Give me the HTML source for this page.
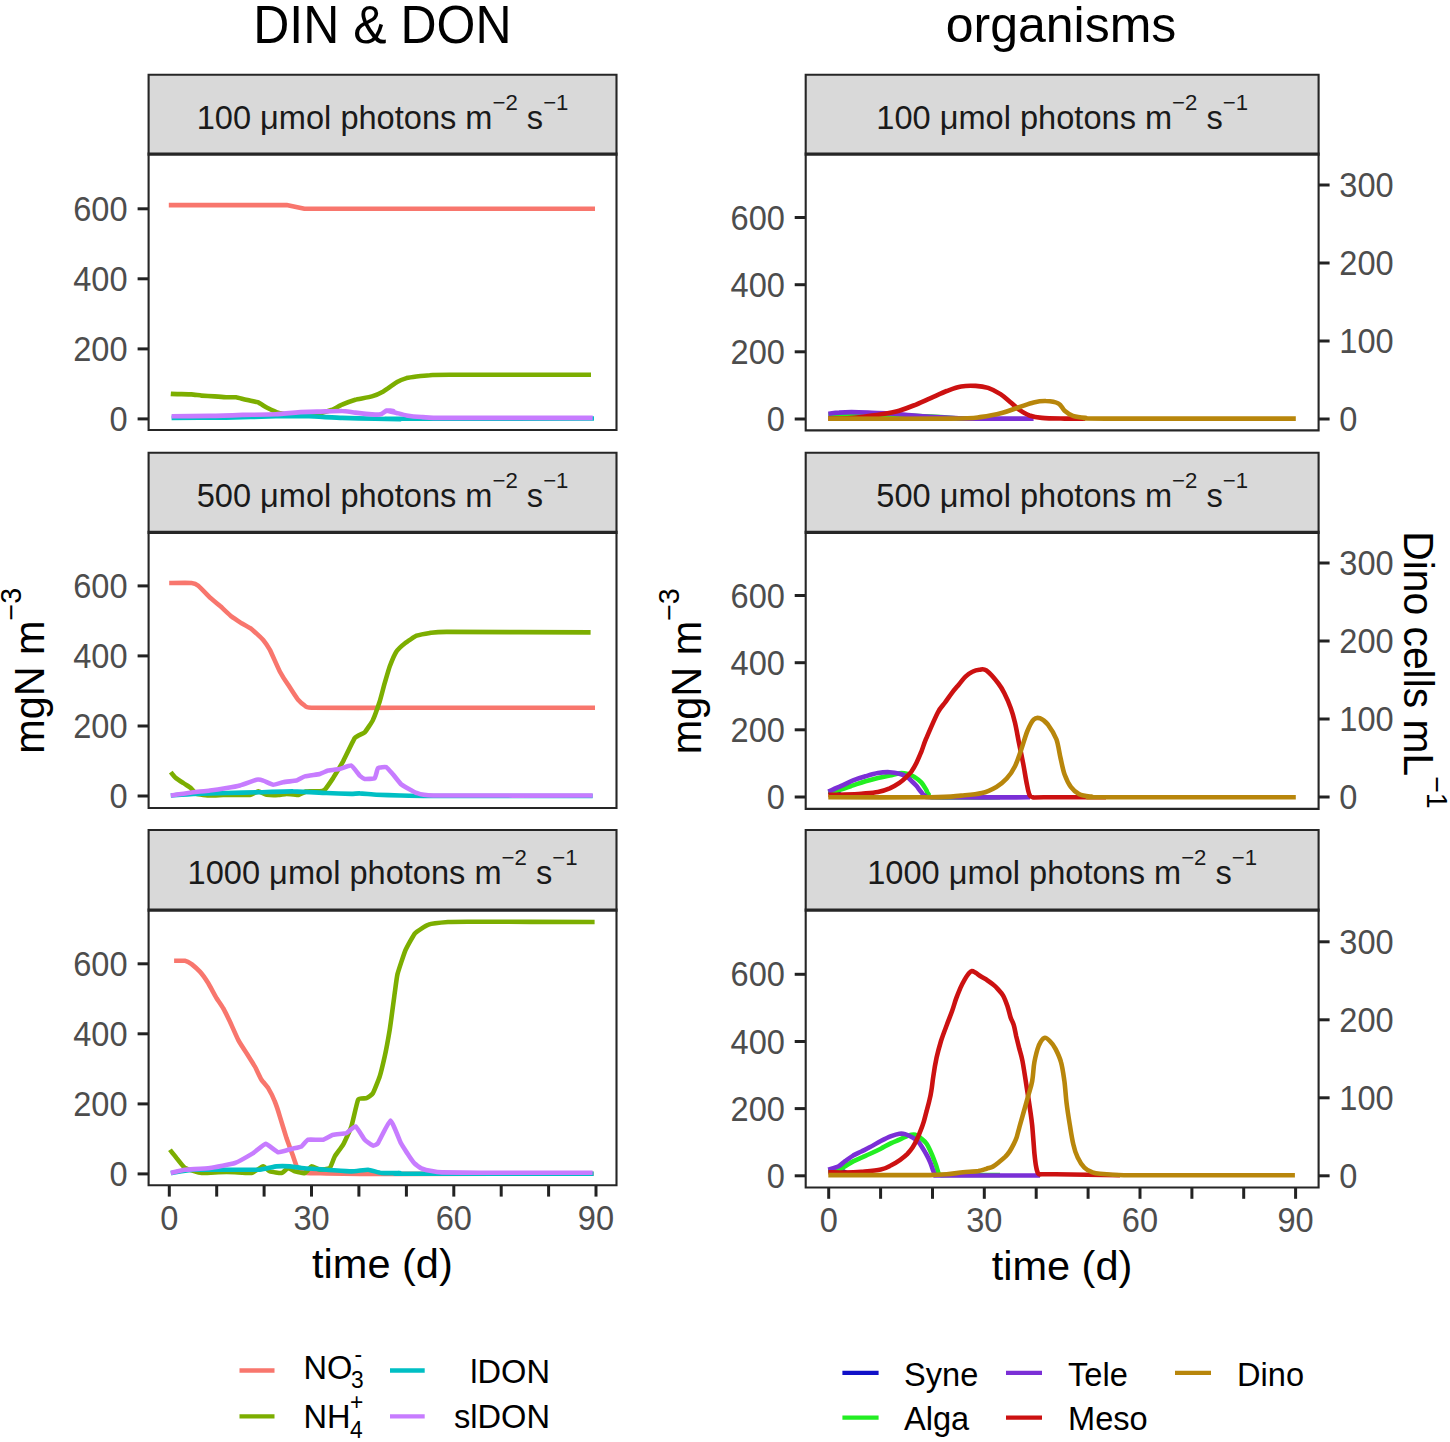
<!DOCTYPE html><html><head><meta charset="utf-8"><style>html,body{margin:0;padding:0;background:#fff;overflow:hidden;}svg{display:block;}text{font-family:"Liberation Sans", sans-serif;}</style></head><body>
<svg width="1450" height="1442" viewBox="0 0 1450 1442">
<rect x="0" y="0" width="1450" height="1442" fill="#fff"/>
<text transform="translate(382.40,43.40) scale(1.0,1.077)" font-size="50" text-anchor="middle" fill="#000">DIN &amp; DON</text>
<text transform="translate(1061.00,42.00) scale(1.0,1.0)" font-size="50" text-anchor="middle" fill="#000">organisms</text>
<rect x="148.6" y="74.7" width="467.90" height="79.35" fill="#D9D9D9"/>
<text transform="translate(382.55,129.00) scale(1.0,1.0)" font-size="32.6" text-anchor="middle" fill="#1A1A1A">100 μmol photons m<tspan dy="-19" font-size="22.2">−2</tspan><tspan dy="19"> s</tspan><tspan dy="-19" font-size="22.2">−1</tspan></text>
<rect x="805.7" y="74.7" width="512.90" height="79.35" fill="#D9D9D9"/>
<text transform="translate(1062.15,129.00) scale(1.0,1.0)" font-size="32.6" text-anchor="middle" fill="#1A1A1A">100 μmol photons m<tspan dy="-19" font-size="22.2">−2</tspan><tspan dy="19"> s</tspan><tspan dy="-19" font-size="22.2">−1</tspan></text>
<rect x="148.6" y="452.8" width="467.90" height="79.50" fill="#D9D9D9"/>
<text transform="translate(382.55,507.10) scale(1.0,1.0)" font-size="32.6" text-anchor="middle" fill="#1A1A1A">500 μmol photons m<tspan dy="-19" font-size="22.2">−2</tspan><tspan dy="19"> s</tspan><tspan dy="-19" font-size="22.2">−1</tspan></text>
<rect x="805.7" y="452.8" width="512.90" height="79.50" fill="#D9D9D9"/>
<text transform="translate(1062.15,507.10) scale(1.0,1.0)" font-size="32.6" text-anchor="middle" fill="#1A1A1A">500 μmol photons m<tspan dy="-19" font-size="22.2">−2</tspan><tspan dy="19"> s</tspan><tspan dy="-19" font-size="22.2">−1</tspan></text>
<rect x="148.6" y="830.0" width="467.90" height="80.10" fill="#D9D9D9"/>
<text transform="translate(382.55,884.30) scale(1.0,1.0)" font-size="32.6" text-anchor="middle" fill="#1A1A1A">1000 μmol photons m<tspan dy="-19" font-size="22.2">−2</tspan><tspan dy="19"> s</tspan><tspan dy="-19" font-size="22.2">−1</tspan></text>
<rect x="805.7" y="830.0" width="512.90" height="80.10" fill="#D9D9D9"/>
<text transform="translate(1062.15,884.30) scale(1.0,1.0)" font-size="32.6" text-anchor="middle" fill="#1A1A1A">1000 μmol photons m<tspan dy="-19" font-size="22.2">−2</tspan><tspan dy="19"> s</tspan><tspan dy="-19" font-size="22.2">−1</tspan></text>
<line x1="137.6" y1="418.9" x2="148.6" y2="418.9" stroke="#222222" stroke-width="3"/>
<text transform="translate(127.60,431.00) scale(1.0,1.065)" font-size="32.6" text-anchor="end" fill="#4D4D4D">0</text>
<line x1="137.6" y1="348.9" x2="148.6" y2="348.9" stroke="#222222" stroke-width="3"/>
<text transform="translate(127.60,360.96) scale(1.0,1.065)" font-size="32.6" text-anchor="end" fill="#4D4D4D">200</text>
<line x1="137.6" y1="278.8" x2="148.6" y2="278.8" stroke="#222222" stroke-width="3"/>
<text transform="translate(127.60,290.92) scale(1.0,1.065)" font-size="32.6" text-anchor="end" fill="#4D4D4D">400</text>
<line x1="137.6" y1="208.8" x2="148.6" y2="208.8" stroke="#222222" stroke-width="3"/>
<text transform="translate(127.60,220.88) scale(1.0,1.065)" font-size="32.6" text-anchor="end" fill="#4D4D4D">600</text>
<line x1="794.7" y1="419.0" x2="805.7" y2="419.0" stroke="#222222" stroke-width="3"/>
<text transform="translate(784.90,431.10) scale(1.0,1.065)" font-size="32.6" text-anchor="end" fill="#4D4D4D">0</text>
<line x1="794.7" y1="351.8" x2="805.7" y2="351.8" stroke="#222222" stroke-width="3"/>
<text transform="translate(784.90,363.94) scale(1.0,1.065)" font-size="32.6" text-anchor="end" fill="#4D4D4D">200</text>
<line x1="794.7" y1="284.7" x2="805.7" y2="284.7" stroke="#222222" stroke-width="3"/>
<text transform="translate(784.90,296.78) scale(1.0,1.065)" font-size="32.6" text-anchor="end" fill="#4D4D4D">400</text>
<line x1="794.7" y1="217.5" x2="805.7" y2="217.5" stroke="#222222" stroke-width="3"/>
<text transform="translate(784.90,229.62) scale(1.0,1.065)" font-size="32.6" text-anchor="end" fill="#4D4D4D">600</text>
<line x1="1318.6" y1="419.0" x2="1329.6" y2="419.0" stroke="#222222" stroke-width="3"/>
<text transform="translate(1339.30,431.10) scale(1.0,1.065)" font-size="32.6" text-anchor="start" fill="#4D4D4D">0</text>
<line x1="1318.6" y1="341.0" x2="1329.6" y2="341.0" stroke="#222222" stroke-width="3"/>
<text transform="translate(1339.30,353.10) scale(1.0,1.065)" font-size="32.6" text-anchor="start" fill="#4D4D4D">100</text>
<line x1="1318.6" y1="263.0" x2="1329.6" y2="263.0" stroke="#222222" stroke-width="3"/>
<text transform="translate(1339.30,275.10) scale(1.0,1.065)" font-size="32.6" text-anchor="start" fill="#4D4D4D">200</text>
<line x1="1318.6" y1="185.0" x2="1329.6" y2="185.0" stroke="#222222" stroke-width="3"/>
<text transform="translate(1339.30,197.10) scale(1.0,1.065)" font-size="32.6" text-anchor="start" fill="#4D4D4D">300</text>
<line x1="137.6" y1="796.0" x2="148.6" y2="796.0" stroke="#222222" stroke-width="3"/>
<text transform="translate(127.60,808.10) scale(1.0,1.065)" font-size="32.6" text-anchor="end" fill="#4D4D4D">0</text>
<line x1="137.6" y1="726.0" x2="148.6" y2="726.0" stroke="#222222" stroke-width="3"/>
<text transform="translate(127.60,738.06) scale(1.0,1.065)" font-size="32.6" text-anchor="end" fill="#4D4D4D">200</text>
<line x1="137.6" y1="655.9" x2="148.6" y2="655.9" stroke="#222222" stroke-width="3"/>
<text transform="translate(127.60,668.02) scale(1.0,1.065)" font-size="32.6" text-anchor="end" fill="#4D4D4D">400</text>
<line x1="137.6" y1="585.9" x2="148.6" y2="585.9" stroke="#222222" stroke-width="3"/>
<text transform="translate(127.60,597.98) scale(1.0,1.065)" font-size="32.6" text-anchor="end" fill="#4D4D4D">600</text>
<line x1="794.7" y1="797.0" x2="805.7" y2="797.0" stroke="#222222" stroke-width="3"/>
<text transform="translate(784.90,809.10) scale(1.0,1.065)" font-size="32.6" text-anchor="end" fill="#4D4D4D">0</text>
<line x1="794.7" y1="729.8" x2="805.7" y2="729.8" stroke="#222222" stroke-width="3"/>
<text transform="translate(784.90,741.94) scale(1.0,1.065)" font-size="32.6" text-anchor="end" fill="#4D4D4D">200</text>
<line x1="794.7" y1="662.7" x2="805.7" y2="662.7" stroke="#222222" stroke-width="3"/>
<text transform="translate(784.90,674.78) scale(1.0,1.065)" font-size="32.6" text-anchor="end" fill="#4D4D4D">400</text>
<line x1="794.7" y1="595.5" x2="805.7" y2="595.5" stroke="#222222" stroke-width="3"/>
<text transform="translate(784.90,607.62) scale(1.0,1.065)" font-size="32.6" text-anchor="end" fill="#4D4D4D">600</text>
<line x1="1318.6" y1="797.0" x2="1329.6" y2="797.0" stroke="#222222" stroke-width="3"/>
<text transform="translate(1339.30,809.10) scale(1.0,1.065)" font-size="32.6" text-anchor="start" fill="#4D4D4D">0</text>
<line x1="1318.6" y1="719.0" x2="1329.6" y2="719.0" stroke="#222222" stroke-width="3"/>
<text transform="translate(1339.30,731.10) scale(1.0,1.065)" font-size="32.6" text-anchor="start" fill="#4D4D4D">100</text>
<line x1="1318.6" y1="641.0" x2="1329.6" y2="641.0" stroke="#222222" stroke-width="3"/>
<text transform="translate(1339.30,653.10) scale(1.0,1.065)" font-size="32.6" text-anchor="start" fill="#4D4D4D">200</text>
<line x1="1318.6" y1="563.0" x2="1329.6" y2="563.0" stroke="#222222" stroke-width="3"/>
<text transform="translate(1339.30,575.10) scale(1.0,1.065)" font-size="32.6" text-anchor="start" fill="#4D4D4D">300</text>
<line x1="137.6" y1="1173.9" x2="148.6" y2="1173.9" stroke="#222222" stroke-width="3"/>
<text transform="translate(127.60,1186.00) scale(1.0,1.065)" font-size="32.6" text-anchor="end" fill="#4D4D4D">0</text>
<line x1="137.6" y1="1103.9" x2="148.6" y2="1103.9" stroke="#222222" stroke-width="3"/>
<text transform="translate(127.60,1115.96) scale(1.0,1.065)" font-size="32.6" text-anchor="end" fill="#4D4D4D">200</text>
<line x1="137.6" y1="1033.8" x2="148.6" y2="1033.8" stroke="#222222" stroke-width="3"/>
<text transform="translate(127.60,1045.92) scale(1.0,1.065)" font-size="32.6" text-anchor="end" fill="#4D4D4D">400</text>
<line x1="137.6" y1="963.8" x2="148.6" y2="963.8" stroke="#222222" stroke-width="3"/>
<text transform="translate(127.60,975.88) scale(1.0,1.065)" font-size="32.6" text-anchor="end" fill="#4D4D4D">600</text>
<line x1="794.7" y1="1175.8" x2="805.7" y2="1175.8" stroke="#222222" stroke-width="3"/>
<text transform="translate(784.90,1187.90) scale(1.0,1.065)" font-size="32.6" text-anchor="end" fill="#4D4D4D">0</text>
<line x1="794.7" y1="1108.6" x2="805.7" y2="1108.6" stroke="#222222" stroke-width="3"/>
<text transform="translate(784.90,1120.74) scale(1.0,1.065)" font-size="32.6" text-anchor="end" fill="#4D4D4D">200</text>
<line x1="794.7" y1="1041.5" x2="805.7" y2="1041.5" stroke="#222222" stroke-width="3"/>
<text transform="translate(784.90,1053.58) scale(1.0,1.065)" font-size="32.6" text-anchor="end" fill="#4D4D4D">400</text>
<line x1="794.7" y1="974.3" x2="805.7" y2="974.3" stroke="#222222" stroke-width="3"/>
<text transform="translate(784.90,986.42) scale(1.0,1.065)" font-size="32.6" text-anchor="end" fill="#4D4D4D">600</text>
<line x1="1318.6" y1="1175.8" x2="1329.6" y2="1175.8" stroke="#222222" stroke-width="3"/>
<text transform="translate(1339.30,1187.90) scale(1.0,1.065)" font-size="32.6" text-anchor="start" fill="#4D4D4D">0</text>
<line x1="1318.6" y1="1097.8" x2="1329.6" y2="1097.8" stroke="#222222" stroke-width="3"/>
<text transform="translate(1339.30,1109.90) scale(1.0,1.065)" font-size="32.6" text-anchor="start" fill="#4D4D4D">100</text>
<line x1="1318.6" y1="1019.8" x2="1329.6" y2="1019.8" stroke="#222222" stroke-width="3"/>
<text transform="translate(1339.30,1031.90) scale(1.0,1.065)" font-size="32.6" text-anchor="start" fill="#4D4D4D">200</text>
<line x1="1318.6" y1="941.8" x2="1329.6" y2="941.8" stroke="#222222" stroke-width="3"/>
<text transform="translate(1339.30,953.90) scale(1.0,1.065)" font-size="32.6" text-anchor="start" fill="#4D4D4D">300</text>
<line x1="169.3" y1="1185.3" x2="169.3" y2="1196.6" stroke="#222222" stroke-width="3"/>
<line x1="828.7" y1="1187.5" x2="828.7" y2="1198.8" stroke="#222222" stroke-width="3"/>
<line x1="216.7" y1="1185.3" x2="216.7" y2="1196.6" stroke="#222222" stroke-width="3"/>
<line x1="880.6" y1="1187.5" x2="880.6" y2="1198.8" stroke="#222222" stroke-width="3"/>
<line x1="264.1" y1="1185.3" x2="264.1" y2="1196.6" stroke="#222222" stroke-width="3"/>
<line x1="932.5" y1="1187.5" x2="932.5" y2="1198.8" stroke="#222222" stroke-width="3"/>
<line x1="311.5" y1="1185.3" x2="311.5" y2="1196.6" stroke="#222222" stroke-width="3"/>
<line x1="984.3" y1="1187.5" x2="984.3" y2="1198.8" stroke="#222222" stroke-width="3"/>
<line x1="358.9" y1="1185.3" x2="358.9" y2="1196.6" stroke="#222222" stroke-width="3"/>
<line x1="1036.2" y1="1187.5" x2="1036.2" y2="1198.8" stroke="#222222" stroke-width="3"/>
<line x1="406.4" y1="1185.3" x2="406.4" y2="1196.6" stroke="#222222" stroke-width="3"/>
<line x1="1088.1" y1="1187.5" x2="1088.1" y2="1198.8" stroke="#222222" stroke-width="3"/>
<line x1="453.8" y1="1185.3" x2="453.8" y2="1196.6" stroke="#222222" stroke-width="3"/>
<line x1="1140.0" y1="1187.5" x2="1140.0" y2="1198.8" stroke="#222222" stroke-width="3"/>
<line x1="501.2" y1="1185.3" x2="501.2" y2="1196.6" stroke="#222222" stroke-width="3"/>
<line x1="1191.9" y1="1187.5" x2="1191.9" y2="1198.8" stroke="#222222" stroke-width="3"/>
<line x1="548.6" y1="1185.3" x2="548.6" y2="1196.6" stroke="#222222" stroke-width="3"/>
<line x1="1243.7" y1="1187.5" x2="1243.7" y2="1198.8" stroke="#222222" stroke-width="3"/>
<line x1="596.0" y1="1185.3" x2="596.0" y2="1196.6" stroke="#222222" stroke-width="3"/>
<line x1="1295.6" y1="1187.5" x2="1295.6" y2="1198.8" stroke="#222222" stroke-width="3"/>
<text transform="translate(169.30,1230.40) scale(1.0,1.065)" font-size="32.6" text-anchor="middle" fill="#4D4D4D">0</text>
<text transform="translate(828.70,1232.20) scale(1.0,1.065)" font-size="32.6" text-anchor="middle" fill="#4D4D4D">0</text>
<text transform="translate(311.53,1230.40) scale(1.0,1.065)" font-size="32.6" text-anchor="middle" fill="#4D4D4D">30</text>
<text transform="translate(984.34,1232.20) scale(1.0,1.065)" font-size="32.6" text-anchor="middle" fill="#4D4D4D">30</text>
<text transform="translate(453.76,1230.40) scale(1.0,1.065)" font-size="32.6" text-anchor="middle" fill="#4D4D4D">60</text>
<text transform="translate(1139.98,1232.20) scale(1.0,1.065)" font-size="32.6" text-anchor="middle" fill="#4D4D4D">60</text>
<text transform="translate(595.99,1230.40) scale(1.0,1.065)" font-size="32.6" text-anchor="middle" fill="#4D4D4D">90</text>
<text transform="translate(1295.62,1232.20) scale(1.0,1.065)" font-size="32.6" text-anchor="middle" fill="#4D4D4D">90</text>
<text transform="translate(382.40,1277.80) scale(1.0,1.0)" font-size="41.5" text-anchor="middle" fill="#000">time (d)</text>
<text transform="translate(1062.00,1279.80) scale(1.0,1.0)" font-size="41.5" text-anchor="middle" fill="#000">time (d)</text>
<text transform="translate(44.20,670.80) rotate(-90) scale(1.0,1.01)" font-size="41.4" text-anchor="middle" fill="#000">mgN m<tspan dy="-22.5" font-size="28.6">−3</tspan></text>
<text transform="translate(701.40,671.20) rotate(-90) scale(1.0,1.01)" font-size="41.4" text-anchor="middle" fill="#000">mgN m<tspan dy="-22.5" font-size="28.6">−3</tspan></text>
<text transform="translate(1404.20,670.00) rotate(90) scale(1.0,1.03)" font-size="40.8" text-anchor="middle" fill="#000">Dino cells mL<tspan dy="-22" font-size="28.6">−1</tspan></text>
<path d="M168.8,205.1 L286.6,205.1 L304.5,208.8 L595.0,208.8" fill="none" stroke="#F8766D" stroke-width="4.6" stroke-linejoin="round" stroke-linecap="butt"/>
<path d="M170.8,393.9 C172.1,394.0 189.4,394.3 191.4,394.4 C193.5,394.5 199.8,395.5 201.4,395.6 C202.9,395.7 213.0,396.3 214.6,396.4 C216.3,396.5 224.8,397.2 226.2,397.2 C227.6,397.3 234.8,397.1 236.1,397.2 C237.5,397.4 244.6,399.4 246.1,399.7 C247.5,400.1 256.2,401.7 257.6,402.2 C259.1,402.8 266.1,407.3 267.6,408.0 C269.0,408.7 277.5,412.5 279.2,413.0 C280.8,413.4 290.6,414.5 292.4,414.6 C294.2,414.7 303.9,414.4 305.6,414.3 C307.4,414.2 317.1,413.6 318.9,413.3 C320.7,413.0 330.6,410.2 332.1,409.7 C333.7,409.1 340.5,405.3 342.1,404.7 C343.6,404.0 353.3,400.3 355.3,399.7 C357.3,399.2 370.0,397.0 371.9,396.4 C373.7,395.9 382.3,392.0 383.4,391.4 C384.5,390.9 387.4,388.7 388.3,388.1 C389.1,387.5 395.3,382.9 396.6,382.3 C397.8,381.6 405.2,378.5 406.5,378.1 C407.8,377.8 414.9,376.7 416.4,376.5 C418.0,376.3 427.4,375.3 429.7,375.2 C431.9,375.0 438.8,374.8 449.5,374.8 C460.3,374.8 581.6,374.8 591.0,374.8" fill="none" stroke="#7CAE00" stroke-width="4.6" stroke-linejoin="round" stroke-linecap="butt"/>
<path d="M171.6,417.9 C175.2,417.9 219.3,417.7 226.2,417.6 C233.2,417.5 270.3,416.4 275.9,416.3 C281.4,416.2 304.5,416.2 309.0,416.3 C313.4,416.4 337.6,417.8 342.1,417.9 C346.5,418.1 371.3,418.7 375.2,418.8 C379.0,418.8 399.3,419.3 400.0,419.3 C400.6,419.2 383.0,418.7 385.0,418.7 C386.9,418.6 415.7,418.7 429.7,418.7 C443.6,418.7 583.0,418.5 594.0,418.5" fill="none" stroke="#00BFC4" stroke-width="4.6" stroke-linejoin="round" stroke-linecap="butt"/>
<path d="M171.6,416.3 C174.1,416.3 204.9,416.0 209.7,415.9 C214.4,415.9 238.3,415.1 242.8,414.9 C247.2,414.8 272.0,414.5 275.9,414.3 C279.7,414.1 297.9,412.3 300.7,412.1 C303.4,412.0 314.5,411.7 317.2,411.6 C320.0,411.6 339.5,410.9 342.1,411.0 C344.6,411.0 353.1,412.4 355.3,412.6 C357.5,412.9 373.4,414.5 375.2,414.6 C376.9,414.7 381.0,414.1 381.8,413.8 C382.6,413.5 386.0,410.7 386.7,410.5 C387.5,410.3 393.3,410.9 393.4,411.0 C393.5,411.0 388.1,411.1 388.3,411.2 C388.5,411.4 395.3,412.6 396.6,412.9 C397.8,413.2 404.8,415.1 406.5,415.4 C408.1,415.7 419.3,416.9 421.4,417.0 C423.5,417.2 426.5,417.8 437.9,417.9 C449.3,417.9 582.4,417.9 592.7,417.9" fill="none" stroke="#C77CFF" stroke-width="4.6" stroke-linejoin="round" stroke-linecap="butt"/>
<path d="M169.2,583.0 C170.7,583.0 189.7,582.8 191.6,583.0 C193.6,583.2 197.1,584.8 198.3,585.8 C199.5,586.8 208.5,596.1 209.9,597.5 C211.4,598.8 218.5,604.5 219.9,605.8 C221.4,607.1 230.1,615.4 231.6,616.6 C233.0,617.8 240.2,622.4 241.6,623.3 C242.9,624.1 250.1,628.0 251.5,629.1 C253.0,630.2 262.0,638.5 263.2,639.9 C264.4,641.3 268.7,647.8 269.9,649.9 C271.0,652.0 278.6,669.2 279.8,671.5 C281.1,673.9 286.9,683.0 288.2,684.8 C289.4,686.7 297.0,698.4 298.1,699.8 C299.3,701.2 303.9,705.1 304.8,705.7 C305.7,706.2 305.1,707.7 311.5,707.8 C317.8,708.0 381.1,707.8 400.0,707.8 C418.9,707.8 582.0,707.8 595.0,707.8" fill="none" stroke="#F8766D" stroke-width="4.6" stroke-linejoin="round" stroke-linecap="butt"/>
<path d="M170.8,772.2 C171.1,772.6 174.1,776.5 175.0,777.2 C175.8,777.9 182.2,782.3 183.3,783.0 C184.4,783.8 189.9,787.3 190.8,788.0 C191.7,788.8 195.3,793.4 196.6,793.9 C197.9,794.4 208.2,795.5 209.9,795.5 C211.7,795.6 221.5,795.1 223.2,795.0 C225.0,795.0 234.8,794.7 236.6,794.7 C238.3,794.7 248.4,795.3 249.9,795.0 C251.3,794.8 257.1,791.4 258.2,791.4 C259.3,791.3 265.2,794.5 266.5,794.7 C267.9,794.9 276.8,795.1 278.2,795.0 C279.5,795.0 285.2,793.9 286.5,793.9 C287.8,793.9 296.8,795.2 298.1,795.0 C299.5,794.9 305.0,791.6 306.5,791.4 C307.9,791.1 318.6,791.5 319.8,791.4 C321.0,791.3 323.9,790.6 324.8,789.7 C325.7,788.8 331.9,779.9 333.1,778.1 C334.3,776.2 341.6,764.1 343.1,761.4 C344.5,758.7 353.3,740.1 354.7,738.1 C356.2,736.2 363.5,733.5 364.7,732.3 C365.9,731.1 372.1,721.9 373.0,719.8 C374.0,717.7 378.9,703.9 379.7,701.5 C380.5,699.1 384.0,685.5 384.7,683.2 C385.4,680.9 388.9,668.6 389.7,666.5 C390.5,664.4 395.3,653.1 396.4,651.6 C397.4,650.0 403.6,644.3 405.0,643.2 C406.3,642.2 415.0,636.4 416.6,635.7 C418.3,635.1 427.9,633.2 429.9,632.9 C431.9,632.7 435.9,632.0 446.6,631.9 C457.3,631.9 581.0,632.4 590.6,632.4" fill="none" stroke="#7CAE00" stroke-width="4.6" stroke-linejoin="round" stroke-linecap="butt"/>
<path d="M170.8,795.5 C172.3,795.4 189.6,794.0 193.3,793.9 C197.0,793.7 222.1,793.1 226.6,793.0 C231.0,792.9 255.4,792.3 259.9,792.2 C264.3,792.1 288.7,791.3 293.2,791.4 C297.6,791.4 322.6,792.9 326.4,793.0 C330.3,793.2 349.2,793.8 351.4,793.9 C353.6,793.9 358.1,793.3 359.7,793.4 C361.4,793.4 373.7,794.6 376.4,794.7 C379.1,794.8 396.4,795.4 400.0,795.5 C403.6,795.6 417.1,796.0 429.9,796.0 C442.8,796.1 581.9,796.0 592.7,796.0" fill="none" stroke="#00BFC4" stroke-width="4.6" stroke-linejoin="round" stroke-linecap="butt"/>
<path d="M170.8,795.5 C172.3,795.3 190.7,792.5 193.3,792.2 C195.9,791.9 207.7,790.8 209.9,790.5 C212.2,790.3 224.6,788.4 226.6,788.0 C228.6,787.7 237.9,786.1 239.9,785.5 C241.9,785.0 255.0,780.1 256.5,779.7 C258.1,779.4 262.1,780.2 263.2,780.6 C264.3,780.9 271.9,784.6 273.2,784.7 C274.5,784.8 281.6,782.5 283.2,782.2 C284.7,781.9 295.0,780.9 296.5,780.6 C297.9,780.2 303.3,776.8 304.8,776.4 C306.4,775.9 318.2,774.3 319.8,773.9 C321.3,773.5 326.8,770.9 328.1,770.6 C329.4,770.2 338.2,769.2 339.8,768.9 C341.3,768.6 350.1,765.1 351.4,765.6 C352.7,766.0 358.8,774.7 359.7,775.6 C360.6,776.4 363.7,778.7 364.7,778.9 C365.7,779.1 373.8,778.8 374.7,778.1 C375.6,777.3 377.3,768.8 378.0,768.1 C378.8,767.3 385.3,766.8 386.4,767.2 C387.4,767.7 392.3,773.6 393.3,774.7 C394.3,775.9 400.1,783.5 401.6,784.7 C403.2,785.9 414.5,792.3 416.6,793.0 C418.7,793.8 421.5,795.4 433.3,795.5 C445.0,795.7 582.1,795.5 592.7,795.5" fill="none" stroke="#C77CFF" stroke-width="4.6" stroke-linejoin="round" stroke-linecap="butt"/>
<path d="M174.1,960.8 C174.9,960.8 183.8,960.6 185.0,960.8 C186.1,961.0 190.6,963.4 191.6,964.1 C192.6,964.9 198.8,970.4 199.9,971.6 C201.1,972.9 207.2,981.5 208.3,983.3 C209.4,985.1 215.6,996.6 216.6,998.3 C217.6,999.9 222.4,1006.7 223.2,1008.3 C224.1,1009.8 228.9,1019.5 229.9,1021.6 C230.9,1023.7 237.1,1037.8 238.2,1039.9 C239.3,1042.0 245.4,1051.4 246.6,1053.2 C247.7,1055.0 253.9,1064.7 254.9,1066.5 C255.9,1068.3 260.6,1078.4 261.5,1079.8 C262.4,1081.3 267.3,1086.7 268.2,1088.1 C269.1,1089.6 274.1,1099.6 274.8,1101.5 C275.6,1103.4 279.1,1114.0 279.8,1116.4 C280.6,1118.9 285.6,1135.4 286.5,1138.1 C287.4,1140.7 292.4,1154.3 293.2,1156.4 C293.9,1158.5 297.3,1168.6 298.1,1169.7 C299.0,1170.8 304.6,1172.8 306.5,1173.0 C308.4,1173.3 322.9,1173.3 326.4,1173.4 C330.0,1173.4 354.8,1173.8 359.7,1173.9 C364.6,1173.9 384.4,1173.9 400.0,1173.9 C415.6,1173.9 580.7,1173.7 593.6,1173.7" fill="none" stroke="#F8766D" stroke-width="4.6" stroke-linejoin="round" stroke-linecap="butt"/>
<path d="M170.0,1149.7 C170.4,1150.3 175.6,1156.8 176.6,1158.1 C177.6,1159.3 183.3,1167.0 185.0,1168.0 C186.6,1169.0 199.4,1172.8 201.6,1173.0 C203.8,1173.3 216.0,1172.3 218.3,1172.2 C220.5,1172.1 232.7,1172.1 234.9,1172.2 C237.1,1172.3 249.7,1173.4 251.5,1173.0 C253.4,1172.6 262.0,1166.5 263.2,1166.4 C264.4,1166.3 268.6,1170.9 269.9,1171.4 C271.1,1171.8 280.3,1173.3 281.5,1173.0 C282.7,1172.8 287.3,1168.2 288.2,1168.0 C289.1,1167.9 293.7,1171.0 294.8,1171.4 C295.9,1171.7 303.7,1173.4 304.8,1173.0 C305.9,1172.7 310.5,1166.6 311.5,1166.4 C312.5,1166.2 318.6,1169.6 319.8,1169.7 C321.0,1169.8 328.8,1168.9 329.8,1168.0 C330.8,1167.2 333.9,1157.9 334.8,1156.4 C335.7,1154.8 342.0,1146.7 343.1,1144.7 C344.2,1142.7 350.4,1129.4 351.4,1126.4 C352.4,1123.4 357.1,1101.7 358.1,1099.8 C359.1,1097.9 365.4,1098.6 366.4,1098.1 C367.4,1097.7 372.2,1094.6 373.0,1093.1 C373.9,1091.7 378.9,1078.9 379.7,1076.5 C380.5,1074.1 384.0,1059.6 384.7,1056.5 C385.4,1053.4 389.0,1034.1 389.7,1029.9 C390.4,1025.7 394.2,997.0 394.7,993.3 C395.2,989.6 396.8,976.9 397.5,974.1 C398.2,971.2 404.1,953.5 405.2,950.8 C406.4,948.1 413.4,935.0 415.0,933.3 C416.5,931.6 426.3,925.3 428.5,924.6 C430.7,923.8 445.4,922.2 448.0,922.0 C450.6,921.8 457.6,921.7 467.4,921.7 C477.2,921.7 586.1,922.0 594.6,922.0" fill="none" stroke="#7CAE00" stroke-width="4.6" stroke-linejoin="round" stroke-linecap="butt"/>
<path d="M170.8,1173.0 C172.3,1172.8 189.6,1169.9 193.3,1169.7 C197.0,1169.5 222.1,1169.7 226.6,1169.7 C231.0,1169.7 256.5,1169.9 259.9,1169.7 C263.2,1169.5 274.5,1166.6 276.5,1166.4 C278.5,1166.2 288.2,1166.3 289.8,1166.4 C291.5,1166.5 299.0,1167.8 301.5,1168.0 C303.9,1168.3 323.1,1169.5 326.4,1169.7 C329.8,1169.9 348.6,1171.4 351.4,1171.4 C354.2,1171.4 366.1,1169.6 368.1,1169.7 C370.1,1169.8 379.2,1172.8 381.4,1173.0 C383.5,1173.3 398.8,1173.0 400.0,1173.0 C401.2,1173.1 386.5,1173.6 399.4,1173.7 C412.3,1173.7 580.6,1173.7 593.6,1173.7" fill="none" stroke="#00BFC4" stroke-width="4.6" stroke-linejoin="round" stroke-linecap="butt"/>
<path d="M170.8,1173.0 C171.8,1172.8 182.4,1170.0 185.0,1169.7 C187.6,1169.4 206.6,1168.5 209.9,1168.0 C213.3,1167.6 232.0,1164.0 234.9,1163.0 C237.8,1162.1 251.2,1154.3 253.2,1153.1 C255.3,1151.8 264.0,1144.0 265.7,1143.9 C267.4,1143.9 276.5,1151.9 278.2,1152.2 C279.9,1152.6 289.9,1149.3 291.5,1148.9 C293.0,1148.5 300.4,1147.0 301.5,1146.4 C302.6,1145.8 306.7,1140.2 308.1,1139.7 C309.6,1139.3 321.5,1140.1 323.1,1139.7 C324.8,1139.4 331.5,1135.2 333.1,1134.8 C334.7,1134.3 344.9,1133.6 346.4,1133.1 C347.9,1132.5 354.4,1126.0 355.6,1126.4 C356.8,1126.9 363.6,1138.5 364.7,1139.7 C365.9,1141.0 372.2,1145.4 373.0,1145.6 C373.9,1145.8 376.9,1144.7 378.0,1143.1 C379.2,1141.4 389.0,1120.6 390.5,1120.6 C392.0,1120.6 399.6,1140.5 400.7,1142.8 C401.8,1145.0 406.7,1152.4 407.6,1153.8 C408.5,1155.2 413.6,1162.5 414.5,1163.4 C415.4,1164.4 420.2,1167.8 421.4,1168.3 C422.5,1168.8 430.3,1170.8 431.7,1171.0 C433.1,1171.3 438.9,1172.3 442.1,1172.4 C445.3,1172.5 470.0,1172.7 480.0,1172.8 C490.0,1172.8 585.1,1172.8 592.6,1172.8" fill="none" stroke="#C77CFF" stroke-width="4.6" stroke-linejoin="round" stroke-linecap="butt"/>
<path d="M828.3,414.6 C835.0,414.7 856.3,414.9 868.1,415.0 C879.9,415.2 891.5,415.3 899.1,415.5 C906.7,415.6 906.7,415.6 913.6,415.9 C920.5,416.1 932.6,416.7 940.5,417.1 C948.4,417.6 952.6,418.3 961.2,418.6 C969.8,418.8 987.0,418.6 992.2,418.6" fill="none" stroke="#22EE22" stroke-width="4.6" stroke-linejoin="round" stroke-linecap="butt"/>
<path d="M828.3,413.8 C830.1,413.6 835.2,412.8 839.1,412.6 C843.0,412.3 846.7,412.1 851.5,412.1 C856.3,412.1 861.9,412.3 868.1,412.6 C874.3,412.8 882.6,413.0 888.8,413.4 C895.0,413.8 898.4,414.2 905.3,414.8 C912.2,415.4 922.6,416.4 930.1,416.9 C937.7,417.4 943.9,417.7 950.8,417.9 C957.7,418.2 957.7,418.5 971.5,418.6 C985.3,418.7 1023.3,418.6 1033.6,418.6" fill="none" stroke="#7B2FD6" stroke-width="4.6" stroke-linejoin="round" stroke-linecap="butt"/>
<path d="M828.3,418.6 C831.5,418.5 841.5,418.7 847.4,418.3 C853.3,418.0 857.7,417.5 863.9,416.7 C870.1,415.9 878.8,414.8 884.6,413.8 C890.5,412.8 894.3,412.1 899.1,410.7 C903.9,409.3 908.4,407.6 913.6,405.5 C918.8,403.5 924.6,400.7 930.1,398.3 C935.7,395.9 941.5,393.0 946.7,391.0 C951.9,389.1 956.4,387.3 961.2,386.5 C966.0,385.6 971.2,385.6 975.7,385.9 C980.1,386.1 983.9,386.6 988.1,387.9 C992.2,389.3 996.7,391.7 1000.5,394.1 C1004.3,396.6 1007.7,399.8 1010.8,402.4 C1013.9,405.0 1016.0,407.5 1019.1,409.7 C1022.2,411.8 1025.7,414.1 1029.5,415.5 C1033.3,416.8 1036.0,417.4 1041.9,417.9 C1047.7,418.5 1057.4,418.5 1064.6,418.6 C1071.9,418.7 1081.9,418.6 1085.3,418.6" fill="none" stroke="#CC1111" stroke-width="4.6" stroke-linejoin="round" stroke-linecap="butt"/>
<path d="M828.3,418.6 C848.8,418.6 925.2,418.8 950.8,418.6 C976.4,418.3 973.3,417.9 981.9,416.9 C990.5,415.9 996.4,414.4 1002.6,412.8 C1008.8,411.1 1013.9,408.9 1019.1,407.2 C1024.3,405.5 1029.1,403.5 1033.6,402.4 C1038.1,401.4 1041.9,400.8 1046.0,401.0 C1050.2,401.1 1055.3,401.8 1058.4,403.5 C1061.5,405.1 1062.2,408.6 1064.6,410.7 C1067.1,412.8 1069.5,414.7 1072.9,415.9 C1076.4,417.1 1079.8,417.5 1085.3,417.9 C1090.8,418.4 1070.9,418.4 1106.0,418.6 C1141.1,418.7 1264.2,418.6 1295.8,418.6" fill="none" stroke="#B8860B" stroke-width="4.6" stroke-linejoin="round" stroke-linecap="butt"/>
<path d="M828.3,791.6 C829.7,791.8 834.6,792.3 836.6,792.8 C838.5,793.3 838.8,794.0 839.9,794.5 C841.0,795.0 842.6,795.5 843.2,795.7" fill="none" stroke="#1010C8" stroke-width="4.6" stroke-linejoin="round" stroke-linecap="butt"/>
<path d="M828.3,792.8 C830.3,792.3 836.6,790.8 840.7,789.5 C844.8,788.3 849.0,786.8 853.1,785.4 C857.2,784.0 861.4,782.5 865.5,781.2 C869.7,780.0 873.9,778.9 877.9,777.9 C882.0,777.0 886.1,776.4 889.7,775.6 C893.3,774.8 896.6,773.5 899.4,773.2 C902.2,772.9 904.3,773.1 906.7,773.7 C909.1,774.3 911.6,775.1 914.0,776.6 C916.4,778.1 919.2,780.2 921.3,782.4 C923.3,784.6 924.9,787.8 926.1,789.7 C927.3,791.7 927.1,792.8 928.5,794.1 C930.0,795.3 923.1,796.8 935.0,797.3 C946.9,797.8 989.2,797.3 1000.0,797.3" fill="none" stroke="#22EE22" stroke-width="4.6" stroke-linejoin="round" stroke-linecap="butt"/>
<path d="M828.3,791.6 C830.3,790.7 836.6,788.1 840.7,786.2 C844.8,784.3 849.0,782.1 853.1,780.4 C857.2,778.8 861.4,777.5 865.5,776.3 C869.7,775.0 873.9,773.6 877.9,773.0 C882.0,772.3 886.1,772.1 889.7,772.2 C893.3,772.4 896.6,773.0 899.4,773.7 C902.2,774.4 904.7,775.4 906.7,776.6 C908.7,777.8 909.9,779.4 911.6,781.0 C913.2,782.5 914.8,784.0 916.4,785.8 C918.0,787.7 919.9,790.6 921.3,792.1 C922.6,793.7 922.4,794.4 924.7,795.3 C926.9,796.2 917.4,797.0 935.0,797.3 C952.6,797.6 1014.2,797.3 1030.0,797.3" fill="none" stroke="#7B2FD6" stroke-width="4.6" stroke-linejoin="round" stroke-linecap="butt"/>
<path d="M828.3,794.9 C831.0,794.8 839.3,794.7 844.8,794.5 C850.3,794.3 855.9,794.1 861.4,793.7 C866.9,793.2 873.2,792.9 877.9,792.0 C882.7,791.1 886.1,789.8 889.7,788.3 C893.3,786.7 896.6,784.9 899.4,782.9 C902.2,781.0 904.7,778.5 906.7,776.6 C908.7,774.7 909.9,773.5 911.6,771.3 C913.2,769.0 914.8,766.2 916.4,763.0 C918.0,759.8 919.6,755.9 921.3,751.8 C922.9,747.8 923.4,745.3 926.1,738.7 C928.9,732.2 934.6,718.7 937.7,712.7 C940.8,706.7 942.4,706.2 944.7,703.0 C947.0,699.8 949.3,696.3 951.6,693.3 C953.9,690.3 956.2,687.7 958.5,685.0 C960.9,682.2 963.2,678.8 965.5,676.6 C967.8,674.4 970.1,672.9 972.4,671.8 C974.7,670.6 977.0,669.9 979.3,669.7 C981.7,669.5 983.1,668.1 986.3,670.4 C989.5,672.7 995.4,679.6 998.4,683.5 C1001.5,687.4 1002.6,689.7 1004.6,693.8 C1006.7,697.9 1009.1,703.5 1010.8,708.3 C1012.6,713.1 1013.6,716.9 1015.0,722.8 C1016.4,728.6 1017.7,736.6 1019.1,743.5 C1020.5,750.4 1021.9,757.2 1023.3,764.1 C1024.6,771.0 1025.9,779.7 1027.0,784.8 C1028.0,789.9 1028.5,792.7 1029.5,794.8 C1030.4,796.8 1030.2,796.8 1032.6,797.3 C1035.0,797.7 1031.7,797.3 1043.9,797.3 C1056.2,797.3 1095.7,797.3 1106.0,797.3" fill="none" stroke="#CC1111" stroke-width="4.6" stroke-linejoin="round" stroke-linecap="butt"/>
<path d="M828.3,797.3 C845.3,797.3 908.0,797.5 930.1,797.3 C952.3,797.0 952.6,796.3 961.2,795.6 C969.8,794.9 976.0,794.6 981.9,793.1 C987.7,791.7 992.2,789.3 996.4,786.9 C1000.5,784.5 1003.6,782.1 1006.7,778.6 C1009.8,775.2 1012.6,771.0 1015.0,766.2 C1017.4,761.4 1019.1,755.5 1021.2,749.7 C1023.3,743.8 1025.3,736.0 1027.4,731.0 C1029.5,726.0 1031.5,721.8 1033.6,719.7 C1035.7,717.5 1037.4,717.4 1039.8,718.2 C1042.2,719.1 1045.3,721.3 1048.1,724.8 C1050.8,728.4 1054.3,733.8 1056.4,739.3 C1058.4,744.8 1059.1,752.1 1060.5,757.9 C1061.9,763.8 1062.9,769.7 1064.6,774.5 C1066.4,779.3 1068.4,783.6 1070.8,786.9 C1073.3,790.2 1075.7,792.5 1079.1,794.1 C1082.6,795.8 1087.1,796.1 1091.5,796.6 C1096.0,797.1 1072.0,797.2 1106.0,797.3 C1140.1,797.3 1264.2,797.2 1295.8,797.2" fill="none" stroke="#B8860B" stroke-width="4.6" stroke-linejoin="round" stroke-linecap="butt"/>
<path d="M828.3,1170.9 C829.7,1170.8 834.1,1170.0 836.5,1170.1 C839.0,1170.2 841.1,1170.9 842.8,1171.3 C844.4,1171.8 845.4,1172.4 846.5,1173.0 C847.5,1173.5 848.5,1174.4 849.0,1174.6" fill="none" stroke="#1010C8" stroke-width="4.6" stroke-linejoin="round" stroke-linecap="butt"/>
<path d="M828.3,1170.5 C830.3,1170.2 837.9,1169.1 840.7,1168.4 C843.4,1167.8 842.8,1167.5 844.8,1166.4 C846.9,1165.2 850.3,1162.9 853.1,1161.4 C855.9,1160.0 858.6,1158.9 861.4,1157.7 C864.1,1156.4 866.4,1155.5 869.6,1154.0 C872.9,1152.5 877.2,1150.5 880.8,1148.7 C884.4,1146.8 888.1,1144.6 891.2,1143.1 C894.3,1141.6 896.6,1140.9 899.5,1139.6 C902.4,1138.4 905.9,1136.3 908.5,1135.5 C911.2,1134.7 913.4,1134.3 915.5,1134.8 C917.6,1135.2 919.2,1136.7 921.0,1138.3 C922.9,1139.8 924.7,1141.0 926.6,1143.8 C928.4,1146.6 930.5,1151.2 932.1,1154.9 C933.7,1158.6 935.2,1163.0 936.3,1166.0 C937.3,1169.0 937.7,1171.4 938.4,1172.9 C939.1,1174.4 938.5,1174.7 940.4,1175.0 C942.4,1175.4 940.1,1175.0 950.0,1175.0 C959.9,1175.0 991.7,1175.0 1000.0,1175.0" fill="none" stroke="#22EE22" stroke-width="4.6" stroke-linejoin="round" stroke-linecap="butt"/>
<path d="M828.3,1169.7 C830.0,1169.1 835.9,1167.5 838.6,1166.2 C841.4,1164.8 842.4,1163.2 844.8,1161.4 C847.2,1159.7 850.3,1157.3 853.1,1155.6 C855.9,1154.0 858.6,1152.9 861.4,1151.5 C864.1,1150.1 866.4,1149.1 869.6,1147.3 C872.9,1145.6 877.2,1142.9 880.8,1141.0 C884.4,1139.2 888.1,1137.4 891.2,1136.2 C894.3,1135.0 897.2,1134.1 899.5,1133.7 C901.8,1133.4 902.9,1133.5 905.1,1134.1 C907.3,1134.7 910.4,1136.2 912.7,1137.6 C915.0,1138.9 916.7,1139.8 918.9,1142.4 C921.1,1145.1 924.0,1150.3 925.9,1153.5 C927.7,1156.7 928.8,1158.8 930.0,1161.8 C931.3,1164.8 932.6,1169.3 933.5,1171.5 C934.4,1173.7 933.7,1174.3 935.6,1175.0 C937.5,1175.7 927.6,1175.4 945.0,1175.5 C962.4,1175.6 1024.2,1175.5 1040.0,1175.5" fill="none" stroke="#7B2FD6" stroke-width="4.6" stroke-linejoin="round" stroke-linecap="butt"/>
<path d="M828.3,1172.2 C831.0,1172.2 839.3,1172.6 844.8,1172.6 C850.3,1172.5 855.4,1172.3 861.4,1171.8 C867.4,1171.2 875.8,1170.5 880.8,1169.5 C885.8,1168.4 888.0,1166.9 891.2,1165.3 C894.4,1163.7 897.6,1161.6 900.2,1159.8 C902.9,1157.9 905.1,1156.3 907.2,1154.2 C909.2,1152.1 911.1,1149.7 912.7,1147.3 C914.3,1144.8 915.6,1142.3 916.9,1139.6 C918.1,1137.0 919.2,1134.3 920.3,1131.3 C921.5,1128.3 922.8,1125.0 923.8,1121.6 C924.8,1118.3 925.6,1114.7 926.6,1111.2 C927.5,1107.7 928.5,1104.3 929.3,1100.8 C930.2,1097.3 930.8,1094.5 931.4,1090.4 C932.1,1086.4 932.4,1082.0 933.3,1076.5 C934.1,1071.0 935.3,1063.6 936.6,1057.6 C937.9,1051.7 939.4,1046.4 941.0,1041.0 C942.7,1035.6 944.7,1030.5 946.6,1025.5 C948.4,1020.5 950.5,1015.5 952.1,1011.0 C953.7,1006.5 954.8,1002.3 956.2,998.4 C957.6,994.6 959.0,991.2 960.3,988.1 C961.7,985.0 963.1,982.2 964.5,979.8 C965.9,977.4 967.4,975.1 968.6,973.6 C969.9,972.2 970.8,971.3 971.9,971.1 C973.1,971.0 974.1,971.9 975.7,972.8 C977.2,973.7 979.1,975.3 981.0,976.5 C983.0,977.8 985.2,978.9 987.2,980.2 C989.3,981.6 991.6,983.3 993.4,984.8 C995.3,986.3 996.5,987.6 998.1,989.4 C999.7,991.2 1001.5,992.8 1003.1,995.6 C1004.7,998.4 1006.2,1002.6 1007.5,1006.2 C1008.7,1009.9 1009.6,1014.3 1010.6,1017.5 C1011.6,1020.6 1012.8,1021.8 1013.7,1024.9 C1014.7,1028.1 1015.3,1032.2 1016.2,1036.2 C1017.2,1040.1 1018.3,1044.5 1019.3,1048.7 C1020.4,1052.8 1021.2,1054.8 1022.5,1061.1 C1023.7,1067.5 1025.4,1078.7 1026.6,1086.6 C1027.9,1094.5 1029.0,1102.3 1030.0,1108.8 C1030.9,1115.3 1031.4,1118.0 1032.2,1125.4 C1032.9,1132.8 1033.8,1146.3 1034.4,1153.2 C1035.1,1160.0 1035.4,1163.1 1036.1,1166.5 C1036.7,1169.9 1037.3,1172.4 1038.3,1173.7 C1039.3,1175.0 1039.3,1174.2 1042.2,1174.3 C1045.0,1174.4 1042.5,1174.1 1055.5,1174.3 C1068.5,1174.4 1109.2,1175.0 1120.0,1175.2" fill="none" stroke="#CC1111" stroke-width="4.6" stroke-linejoin="round" stroke-linecap="butt"/>
<path d="M828.3,1175.1 C841.5,1175.1 890.4,1175.1 907.4,1175.1 C924.3,1175.1 923.5,1175.2 930.0,1175.1 C936.5,1175.0 941.0,1174.7 946.6,1174.3 C952.1,1173.8 957.8,1172.9 963.1,1172.3 C968.4,1171.8 974.4,1171.6 978.3,1171.0 C982.2,1170.3 984.2,1169.4 986.6,1168.7 C989.1,1167.9 990.8,1167.7 992.9,1166.6 C995.0,1165.5 997.0,1163.7 999.1,1162.0 C1001.2,1160.3 1003.6,1158.3 1005.4,1156.6 C1007.1,1154.9 1008.1,1153.7 1009.5,1151.6 C1010.9,1149.5 1012.5,1146.5 1013.7,1144.1 C1014.9,1141.8 1015.7,1140.1 1016.6,1137.5 C1017.5,1134.8 1017.2,1134.9 1019.1,1128.3 C1020.9,1121.7 1025.6,1105.6 1027.7,1097.7 C1029.9,1089.8 1031.1,1087.0 1032.2,1081.0 C1033.3,1075.1 1033.3,1068.1 1034.4,1062.2 C1035.5,1056.3 1037.2,1049.6 1038.8,1045.5 C1040.5,1041.5 1042.5,1038.5 1044.4,1037.8 C1046.2,1037.0 1048.1,1039.2 1049.9,1041.1 C1051.8,1042.9 1053.6,1045.3 1055.5,1048.9 C1057.3,1052.4 1059.6,1056.8 1061.0,1062.2 C1062.5,1067.5 1063.4,1074.2 1064.4,1081.0 C1065.3,1087.9 1065.7,1095.8 1066.6,1103.2 C1067.5,1110.6 1068.8,1118.6 1069.9,1125.4 C1071.0,1132.3 1072.0,1138.9 1073.3,1144.3 C1074.5,1149.7 1075.8,1153.7 1077.7,1157.6 C1079.5,1161.5 1081.9,1165.2 1084.4,1167.6 C1086.8,1170.0 1089.5,1171.0 1092.1,1172.1 C1094.7,1173.1 1094.7,1173.2 1100.0,1173.7 C1105.3,1174.2 1113.8,1175.0 1123.9,1175.2 C1134.1,1175.5 1132.4,1175.2 1160.9,1175.2 C1189.4,1175.2 1272.6,1175.2 1294.9,1175.2" fill="none" stroke="#B8860B" stroke-width="4.6" stroke-linejoin="round" stroke-linecap="butt"/>
<path d="M148.6,73.65 V431.05 M616.5,73.65 V431.05 M147.54999999999998,74.7 H617.55 M147.54999999999998,430.0 H617.55" fill="none" stroke="#262626" stroke-width="2.1"/>
<path d="M147.54999999999998,154.05 H617.55" fill="none" stroke="#262626" stroke-width="3.3"/>
<path d="M805.7,73.65 V431.45 M1318.6,73.65 V431.45 M804.6500000000001,74.7 H1319.6499999999999 M804.6500000000001,430.4 H1319.6499999999999" fill="none" stroke="#262626" stroke-width="2.1"/>
<path d="M804.6500000000001,154.05 H1319.6499999999999" fill="none" stroke="#262626" stroke-width="3.3"/>
<path d="M148.6,451.75 V809.05 M616.5,451.75 V809.05 M147.54999999999998,452.8 H617.55 M147.54999999999998,808.0 H617.55" fill="none" stroke="#262626" stroke-width="2.1"/>
<path d="M147.54999999999998,532.3 H617.55" fill="none" stroke="#262626" stroke-width="3.3"/>
<path d="M805.7,451.75 V809.9499999999999 M1318.6,451.75 V809.9499999999999 M804.6500000000001,452.8 H1319.6499999999999 M804.6500000000001,808.9 H1319.6499999999999" fill="none" stroke="#262626" stroke-width="2.1"/>
<path d="M804.6500000000001,532.3 H1319.6499999999999" fill="none" stroke="#262626" stroke-width="3.3"/>
<path d="M148.6,828.95 V1186.35 M616.5,828.95 V1186.35 M147.54999999999998,830.0 H617.55 M147.54999999999998,1185.3 H617.55" fill="none" stroke="#262626" stroke-width="2.1"/>
<path d="M147.54999999999998,910.1 H617.55" fill="none" stroke="#262626" stroke-width="3.3"/>
<path d="M805.7,828.95 V1188.55 M1318.6,828.95 V1188.55 M804.6500000000001,830.0 H1319.6499999999999 M804.6500000000001,1187.5 H1319.6499999999999" fill="none" stroke="#262626" stroke-width="2.1"/>
<path d="M804.6500000000001,910.1 H1319.6499999999999" fill="none" stroke="#262626" stroke-width="3.3"/>
<line x1="239.5" y1="1370.5" x2="274.5" y2="1370.5" stroke="#F8766D" stroke-width="4.3"/>
<line x1="239.5" y1="1416.4" x2="274.5" y2="1416.4" stroke="#7CAE00" stroke-width="4.3"/>
<line x1="390" y1="1370.5" x2="424.7" y2="1370.5" stroke="#00BFC4" stroke-width="4.3"/>
<line x1="390" y1="1416.4" x2="424.7" y2="1416.4" stroke="#C77CFF" stroke-width="4.3"/>
<text transform="translate(303.50,1378.50) scale(1.0,1.03)" font-size="32.6" text-anchor="start" fill="#000">NO</text>
<text transform="translate(354.50,1362.00) scale(1.0,1.03)" font-size="22.8" text-anchor="start" fill="#000">-</text>
<text transform="translate(351.00,1388.00) scale(1.0,1.03)" font-size="22.8" text-anchor="start" fill="#000">3</text>
<text transform="translate(303.50,1428.00) scale(1.0,1.03)" font-size="32.6" text-anchor="start" fill="#000">NH</text>
<text transform="translate(350.00,1410.00) scale(1.0,1.03)" font-size="22.8" text-anchor="start" fill="#000">+</text>
<text transform="translate(350.00,1438.00) scale(1.0,1.03)" font-size="22.8" text-anchor="start" fill="#000">4</text>
<text transform="translate(550.00,1383.00) scale(1.0,1.03)" font-size="32.6" text-anchor="end" fill="#000">lDON</text>
<text transform="translate(550.00,1428.00) scale(1.0,1.03)" font-size="32.6" text-anchor="end" fill="#000">slDON</text>
<line x1="842.4" y1="1372.8" x2="878.6" y2="1372.8" stroke="#1010C8" stroke-width="4.3"/>
<line x1="842.4" y1="1417.6" x2="878.6" y2="1417.6" stroke="#22EE22" stroke-width="4.3"/>
<line x1="1006" y1="1372.8" x2="1042" y2="1372.8" stroke="#7B2FD6" stroke-width="4.3"/>
<line x1="1006" y1="1417.6" x2="1042" y2="1417.6" stroke="#CC1111" stroke-width="4.3"/>
<line x1="1175" y1="1372.8" x2="1211" y2="1372.8" stroke="#B8860B" stroke-width="4.3"/>
<text transform="translate(904.00,1385.50) scale(1.0,1.03)" font-size="32.6" text-anchor="start" fill="#000">Syne</text>
<text transform="translate(904.00,1430.00) scale(1.0,1.03)" font-size="32.6" text-anchor="start" fill="#000">Alga</text>
<text transform="translate(1068.00,1385.50) scale(1.0,1.03)" font-size="32.6" text-anchor="start" fill="#000">Tele</text>
<text transform="translate(1068.00,1430.00) scale(1.0,1.03)" font-size="32.6" text-anchor="start" fill="#000">Meso</text>
<text transform="translate(1237.00,1385.50) scale(1.0,1.03)" font-size="32.6" text-anchor="start" fill="#000">Dino</text>
</svg></body></html>
